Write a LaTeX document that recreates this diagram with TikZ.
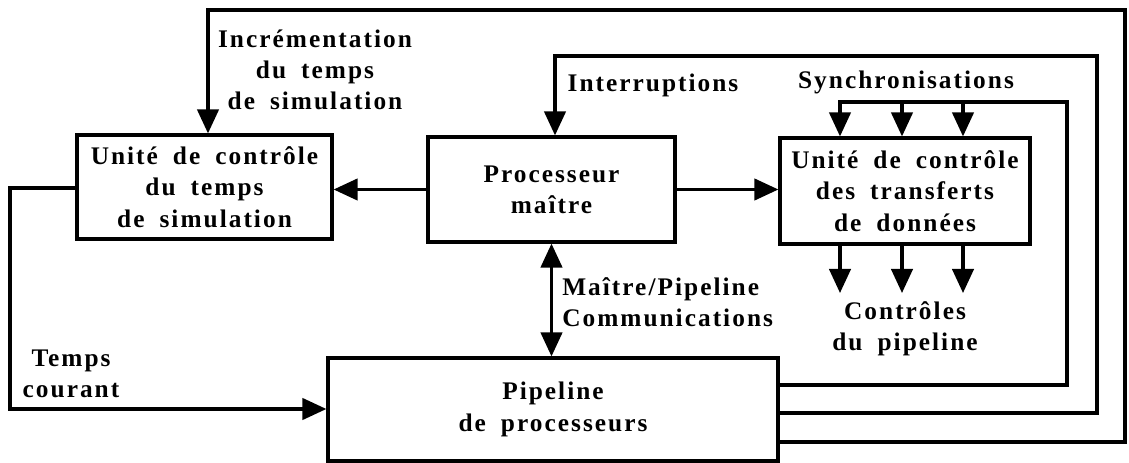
\documentclass[tikz,border=0pt]{standalone}
\usepackage{fontspec}
\setmainfont{Liberation Serif}[LetterSpace=8,WordSpace=1.8]
\usetikzlibrary{arrows.meta,calc}
\begin{document}
\begin{tikzpicture}[x=0.75pt,y=-0.75pt,
  box/.style={draw,line width=2.4pt,rectangle,align=center,inner sep=0pt},
  conn/.style={line width=2.4pt},
  arr/.style={conn,-{Triangle[length=18pt,width=16pt]}},
  darr/.style={conn,{Triangle[length=18pt,width=16pt]}-{Triangle[length=18pt,width=16pt]}},
  lbl/.style={align=center,inner sep=0pt},
  every node/.style={font=\fontsize{19}{23.5}\selectfont\bfseries}]
\useasboundingbox (0,0) rectangle (1129,463);

\node[box,minimum width=191.25pt,minimum height=78pt] (lbox) at (204.5,187)
  {Unité de contrôle\\du temps\\de simulation};
\node[box,minimum width=185.25pt,minimum height=78.75pt] (proc) at (551.5,189.5)
  {Processeur\\maître};
\node[box,minimum width=187.5pt,minimum height=79.5pt] (rbox) at (905,191)
  {Unité de contrôle\\des transferts\\de données};
\node[box,minimum width=337.5pt,minimum height=77.25pt] (pipe) at (553,409.5)
  {Pipeline\\de processeurs};

\coordinate (c1a) at (1125,442);
\coordinate (c1b) at (1125,10);
\coordinate (c1c) at (208,10);
\coordinate (c2a) at (1097,413);
\coordinate (c2b) at (1097,56);
\coordinate (c2c) at (555,56);
\coordinate (c3a) at (1067,385);
\coordinate (c3b) at (1067,102);
\coordinate (s1) at (840,102);
\coordinate (s2) at (902,102);
\coordinate (s3) at (963,102);
\coordinate (o1) at (840,293);
\coordinate (o2) at (902,293);
\coordinate (o3) at (963,293);
\coordinate (l1) at (10,188);
\coordinate (l2) at (10,409);

\draw[arr] (pipe.east |- c1a) -- (c1a) -- (c1b) -- (c1c) -- (lbox.north -| c1c);
\draw[arr] (pipe.east |- c2a) -- (c2a) -- (c2b) -- (c2c) -- (proc.north -| c2c);
\draw[arr] (pipe.east |- c3a) -- (c3a) -- (c3b) -- (s1) -- (rbox.north -| s1);
\draw[arr] (s2) -- (rbox.north -| s2);
\draw[arr] (s3) -- (rbox.north -| s3);
\draw[arr] (rbox.south -| o1) -- (o1);
\draw[arr] (rbox.south -| o2) -- (o2);
\draw[arr] (rbox.south -| o3) -- (o3);
\draw[arr] (proc.west) -- (lbox.east |- proc.west);
\draw[arr] (proc.east) -- (rbox.west |- proc.east);
\draw[darr] (proc.south) -- (pipe.north -| proc.south);
\draw[arr] (lbox.west |- l1) -- (l1) -- (l2) -- (pipe.west |- l2);

\node[lbl] (tincr) at (315,70) {Incrémentation\\du temps\\de simulation};
\node[lbl] (tintr) at (653,85) {Interruptions};
\node[lbl] (tsync) at (906,82) {Synchronisations};
\node[lbl,anchor=west,align=left] (tcomm) at (562,302) {Maître/Pipeline\\Communications};
\node[lbl] (tctrl) at (905,329) {Contrôles\\du pipeline};
\node[lbl] (ttemps) at (71,374) {Temps\\courant};
\end{tikzpicture}
\end{document}
